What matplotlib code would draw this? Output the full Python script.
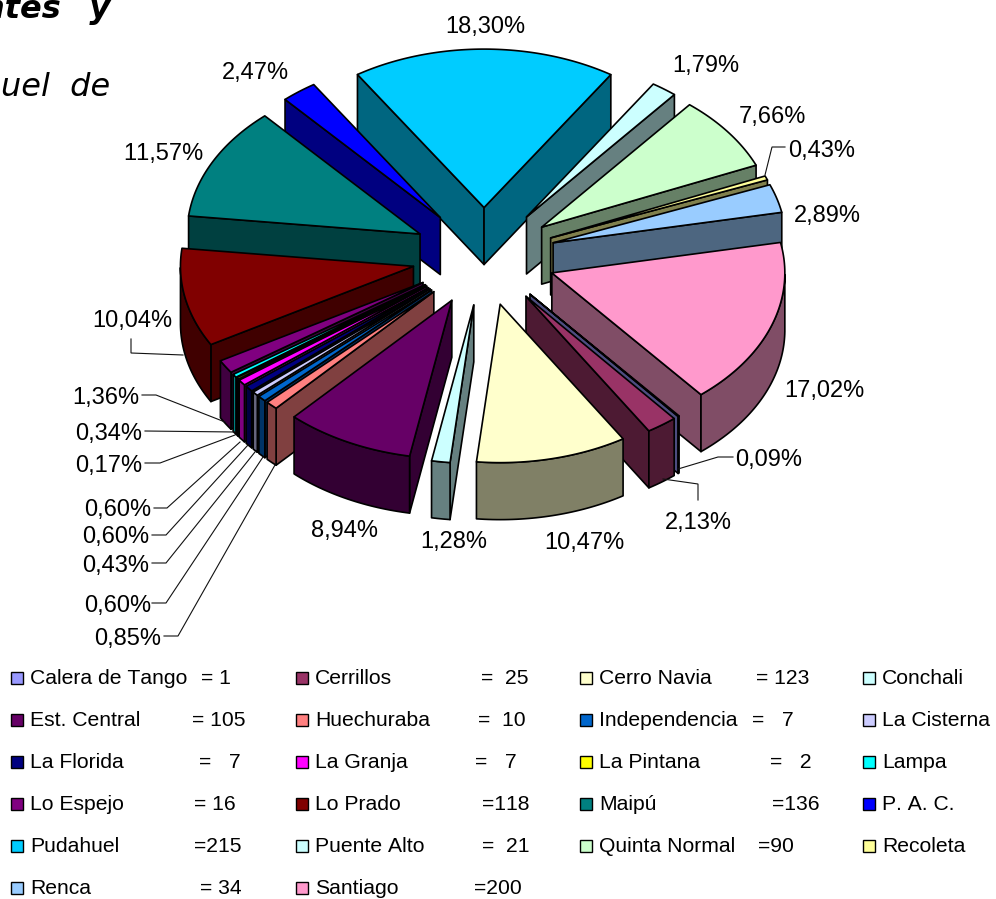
import matplotlib
matplotlib.use("Agg")
import matplotlib.pyplot as plt
from matplotlib.patches import Polygon, Rectangle
from matplotlib.colors import to_rgb
import numpy as np

plt.rcParams['font.family'] = ['Liberation Sans', 'DejaVu Sans']
plt.rcParams['text.kerning_factor'] = 6  # sin kerning, el "11" se pegaba

# comunas, casos y colores
names = ["Calera de Tango", "Cerrillos", "Cerro Navia", "Conchali",
         "Est. Central", "Huechuraba", "Independencia", "La Cisterna",
         "La Florida", "La Granja", "La Pintana", "Lampa",
         "Lo Espejo", "Lo Prado", "Maipú", "P. A. C.",
         "Pudahuel", "Puente Alto", "Quinta Normal", "Recoleta",
         "Renca", "Santiago"]
values = [1, 25, 123, 15, 105, 10, 7, 5, 7, 7, 2, 4, 16, 118, 136, 29, 215, 21, 90, 5, 34, 200]
colors = ["#9999FF", "#993366", "#FFFFCC", "#CCFFFF", "#660066", "#FF8080", "#0066CC", "#CCCCFF",
          "#000080", "#FF00FF", "#FFFF00", "#00FFFF", "#800080", "#800000", "#008080", "#0000FF",
          "#00CCFF", "#CCFFFF", "#CCFFCC", "#FFFF99", "#99CCFF", "#FF99CC"]
suffixes = ["= 1", "=  25", "= 123", "",
            "= 105", "=  10", "=   7", "",
            "=   7", "=   7", "=   2", "",
            "= 16", "=118", "=136", "",
            "=215", "=  21", "=90", "",
            "= 34", "=200"]

# posiciones en pixeles de la figura
suffix_x = [201, 481, 756, 0,
            192.5, 478, 751.5, 0,
            199, 475, 770, 0,
            194, 482, 772, 0,
            194, 482, 758, 0,
            199.5, 474]
label_pos = [(769, 460), (698, 523), (584, 543), (454, 542), (345, 531), (128, 639), (118, 606), (116, 566),
             (116, 537), (118, 510), (109, 466), (109, 434), (106, 398), (132, 321), (163, 154), (255, 73),
             (485, 27), (706, 66), (772, 117), (822, 151), (827, 216), (824, 391)]
leaders = [
    [(733, 457), (718, 457), (678, 469)],
    [(698, 500), (698, 484), (663, 479)],
    [(164, 636), (178, 636), (275, 465)],
    [(152, 603), (166, 603), (263, 457)],
    [(152, 563), (166, 563), (255, 452)],
    [(152, 535), (166, 535), (248, 445)],
    [(154, 508), (167, 508), (240, 442)],
    [(145, 463), (160, 463), (235, 435)],
    [(145, 431), (235, 432)],
    [(142, 395), (156, 395), (225, 422)],
    [(131, 339), (131, 353), (183, 355)],
    [(785, 147), (772, 147), (765, 175)],
]

cx, cy = 484, 256.5
radio = 233
squash = 0.68
depth = 57
explode = 72
start = 140.2
total = sum(values)

fig = plt.figure(figsize=(9.96, 8.99), dpi=100)
ax = fig.add_axes([0, 0, 1, 1])
ax.set_xlim(0, 996)
ax.set_ylim(899, 0)
ax.axis('off')


def screen(ox, oy, t, r=radio):
    return ox + r * np.sin(t), oy - squash * r * np.cos(t)


def shade(c):
    return tuple(v * 0.5 for v in to_rgb(c))


def draw_slice(t1, t2, color):
    mid = (t1 + t2) / 2
    ox, oy = screen(cx, cy, mid, explode)
    ts = np.linspace(t1, t2, max(int((t2 - t1) * 60), 4))
    dark = shade(color)
    # caras radiales, solo si miran al frente
    for t, visible in ((t1, np.sin(t1) < 0), (t2, np.sin(t2) > 0)):
        if visible:
            x, y = screen(ox, oy, t)
            ax.add_patch(Polygon([(ox, oy), (x, y), (x, y + depth), (ox, oy + depth)],
                                 fc=dark, ec='black', lw=1.2, joinstyle='round'))
    # pared curva
    front = ts[np.cos(ts) < 0]
    if len(front) > 1:
        x, y = screen(ox, oy, front)
        pts = list(zip(x, y)) + list(zip(x[::-1], y[::-1] + depth))
        ax.add_patch(Polygon(pts, fc=dark, ec='black', lw=1.2, joinstyle='round'))
    x, y = screen(ox, oy, ts)
    ax.add_patch(Polygon([(ox, oy)] + list(zip(x, y)), fc=color, ec='black', lw=1.2, joinstyle='round'))


angles = np.radians(start + np.cumsum([0] + values) * 360.0 / total)
order = sorted(range(len(values)), key=lambda i: -np.cos((angles[i] + angles[i + 1]) / 2))
for i in order:
    draw_slice(angles[i], angles[i + 1], colors[i])

# lineas guia
for line in leaders:
    xs, ys = zip(*line)
    ax.plot(xs, ys, color='#111111', lw=0.8, solid_joinstyle='miter')

# porcentajes
for v, (x, y) in zip(values, label_pos):
    txt = "{:.2f}%".format(v / total * 100).replace('.', ',')
    ax.text(x, y, txt, fontsize=17, ha='center', va='center', color='black')

# leyenda hecha a mano, 4 columnas
col_box = [11, 296, 580, 863]
col_txt = [30, 315, 599, 882]
for i, name in enumerate(names):
    row, col = divmod(i, 4)
    y = 679 + row * 42
    ax.add_patch(Rectangle((col_box[col], y - 7), 12, 12, fc=colors[i], ec='black', lw=1))
    ax.text(col_txt[col], y, name, fontsize=15.2, ha='left', va='center', color='black')
    if suffixes[i]:
        ax.text(suffix_x[i], y, suffixes[i], fontsize=15.2, ha='left', va='center', color='black')

# restos del titulo, cortados por el borde
ax.text(110, 18, "ntes  \u2009y", fontsize=23, family='DejaVu Sans', style='italic', weight='bold',
        ha='right', va='baseline', color='black')
ax.text(110, 96, "uel  de", fontsize=23, family='DejaVu Sans', style='italic',
        ha='right', va='baseline', color='black')

fig.savefig("out.png", dpi=100)
